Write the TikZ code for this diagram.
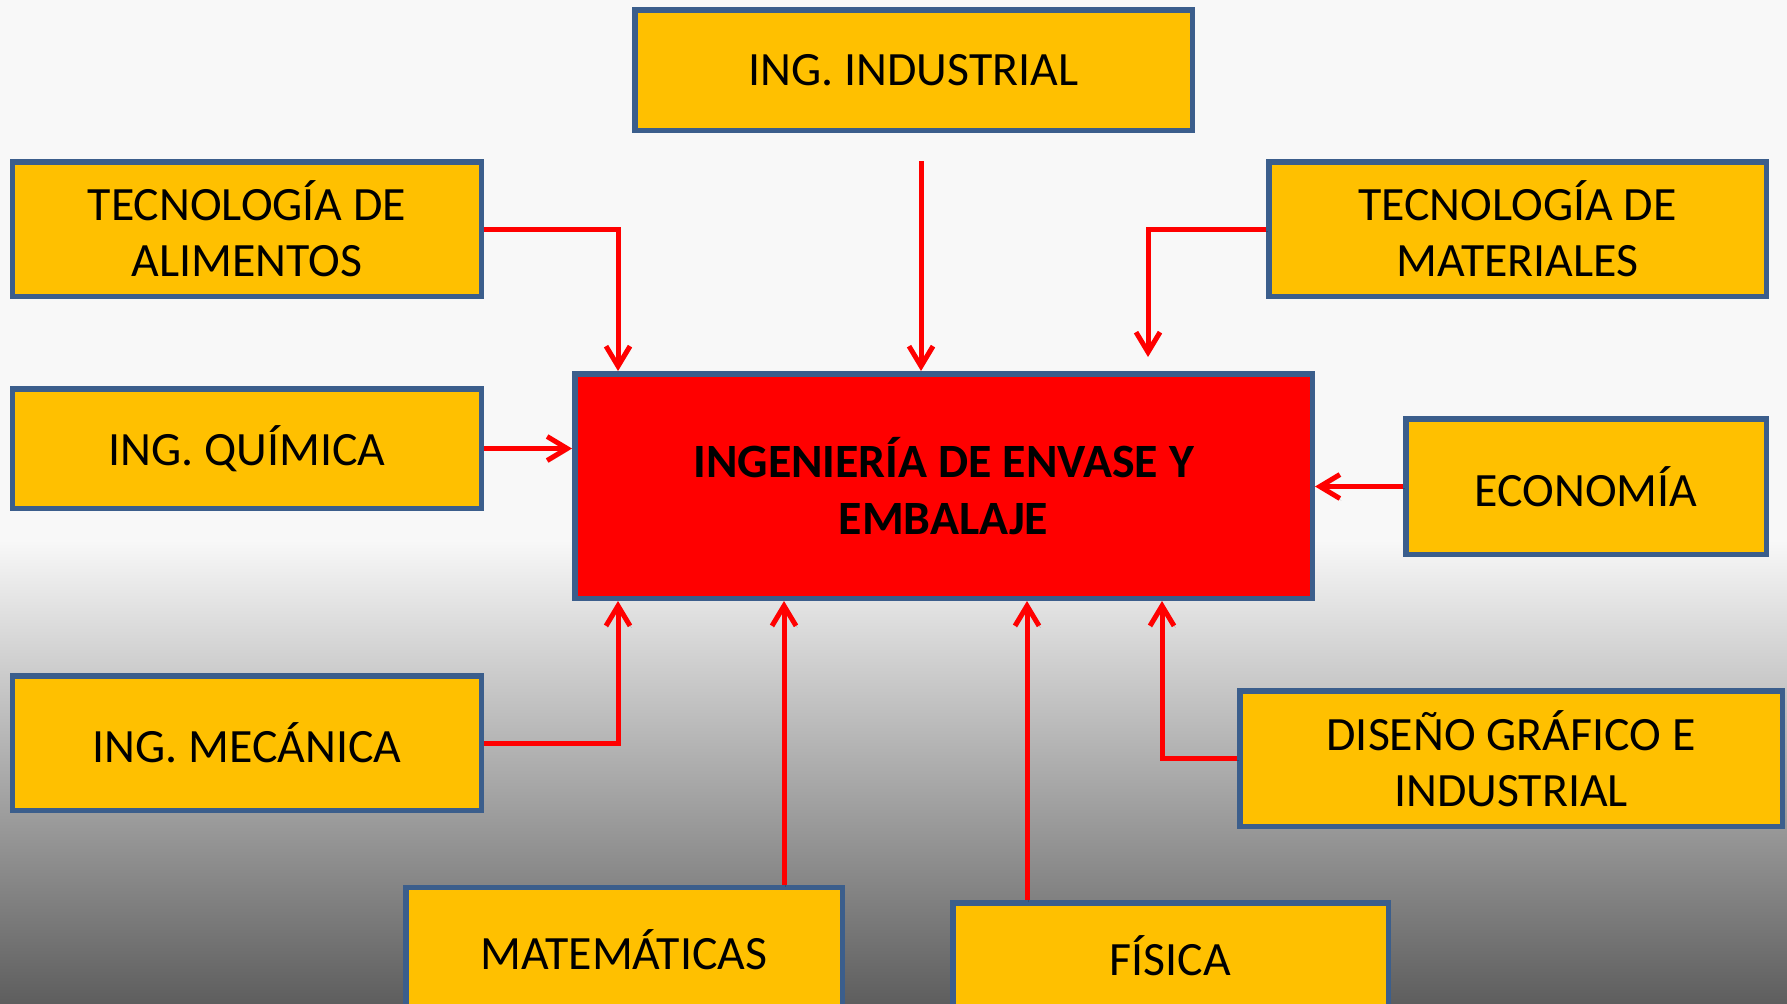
\documentclass[tikz,border=0pt]{standalone}
\usepackage{fontspec}
\setmainfont{Carlito}
\usetikzlibrary{arrows.meta}
\definecolor{boxfill}{HTML}{FFC000}
\definecolor{boxline}{HTML}{3B5E8C}
\definecolor{bgtop}{HTML}{F8F8F8}
\definecolor{bgbot}{HTML}{5E5E5E}
\definecolor{mainred}{HTML}{FF0000}
\tikzset{
  discbox/.style={draw=boxline, fill=boxfill, line width=5.5bp, align=center,
    font=\fontsize{48}{56}\selectfont, inner sep=0pt, text=black},
  mainbox/.style={draw=boxline, fill=mainred, line width=5.5bp, align=center,
    font=\fontsize{48}{57}\selectfont\bfseries, inner sep=0pt, text=black},
  flow/.style={draw=mainred, line width=5bp,
    -{Straight Barb[length=20bp,width=24bp]},
    preaction={draw=black, opacity=0.18, transform canvas={xshift=1.5bp,yshift=-2bp}}}
}
\begin{document}
\begin{tikzpicture}[x=1bp,y=-1bp]
\useasboundingbox (0,0) rectangle (1787,1003);
\fill[bgtop] (0,0) rectangle (1787,540);
\shade[top color=bgtop, bottom color=bgbot] (0,540) rectangle (1787,1003);

\node[mainbox, minimum width=737.5bp, minimum height=224.5bp] (red) at (943.5,486)
  {INGENIERÍA DE ENVASE Y\\EMBALAJE};
\node[discbox, minimum width=557.5bp, minimum height=120.5bp] (ind) at (913.5,70) {ING. INDUSTRIAL};
\node[discbox, minimum width=468.5bp, minimum height=134.5bp] (ali) at (247,229) {TECNOLOGÍA DE\\ALIMENTOS};
\node[discbox, minimum width=468.5bp, minimum height=119.5bp] (qui) at (247,448.5) {ING. QUÍMICA};
\node[discbox, minimum width=497.5bp, minimum height=134.5bp] (mat) at (1517.5,229) {TECNOLOGÍA DE\\MATERIALES};
\node[discbox, minimum width=360.5bp, minimum height=135.5bp] (eco) at (1586,486.5) {ECONOMÍA};
\node[discbox, minimum width=468.5bp, minimum height=134.5bp] (mec) at (247,743) {ING. MECÁNICA};
\node[discbox, minimum width=436.5bp, minimum height=125.5bp] (mate) at (624,950) {MATEMÁTICAS};
\node[discbox, minimum width=435.5bp, minimum height=105.5bp] (fis) at (1170.5,955.5) {FÍSICA};
\node[discbox, minimum width=542.5bp, minimum height=135.5bp] (dis) at (1511,758.5) {DISEÑO GRÁFICO E\\INDUSTRIAL};

\coordinate (ka) at (618,0);
\coordinate (indout) at (921,161);
\coordinate (matend) at (1148,357);
\coordinate (km) at (784,0);
\coordinate (kf) at (1027,0);
\coordinate (kd) at (1162,0);

\draw[flow] (ali.east) -| (red.north -| ka);
\draw[flow] (indout) -- (red.north -| indout);
\draw[flow] (mat.west) -| (matend);
\draw[flow] (qui.east) -- (red.west |- qui.east);
\draw[flow] (eco.west) -- (red.east |- eco.west);
\draw[flow] (mec.east) -| (red.south -| ka);
\draw[flow] (mate.north -| km) -- (red.south -| km);
\draw[flow] (fis.north -| kf) -- (red.south -| kf);
\draw[flow] (dis.west) -| (red.south -| kd);
\end{tikzpicture}
\end{document}
